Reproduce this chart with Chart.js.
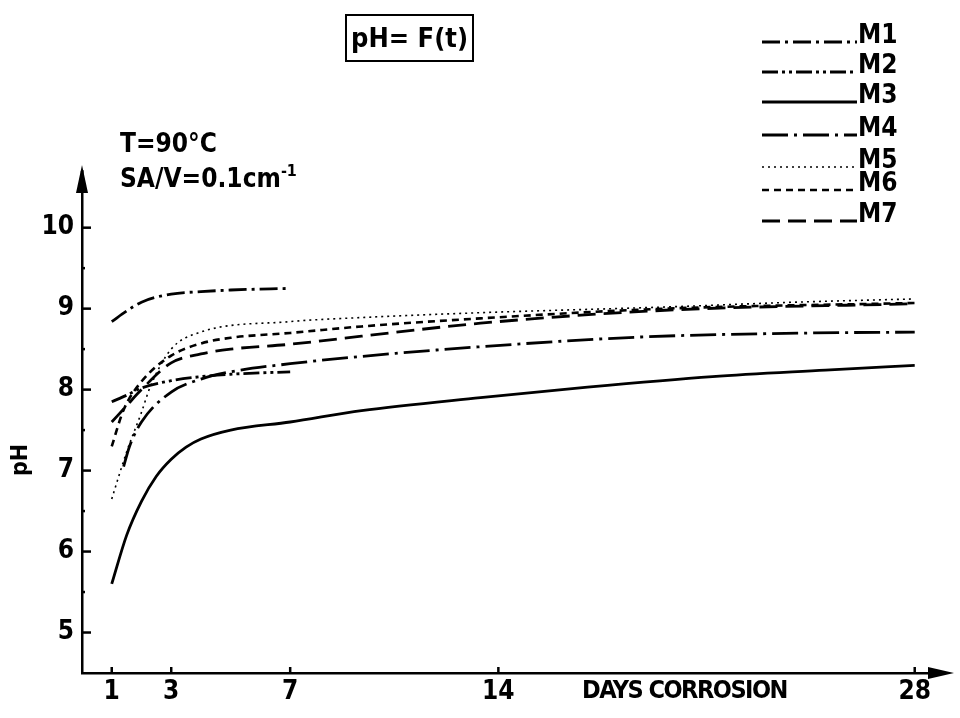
<!DOCTYPE html>
<html>
<head>
<meta charset="utf-8">
<script src="https://cdn.jsdelivr.net/npm/chart.js@4.4.0/dist/chart.umd.min.js"></script>
<style>
body{margin:0;background:#fff;}
#wrap{position:relative;width:960px;height:718px;overflow:hidden;}
canvas{position:absolute;left:0;top:0;}
.txt{position:absolute;font-family:"DejaVu Sans Condensed","DejaVu Sans",sans-serif;font-weight:bold;color:#000;white-space:nowrap;line-height:1;}
#titulo{left:345px;top:14px;width:121px;height:44px;border:2.5px solid #000;font-size:27px;text-align:right;padding-right:4px;box-sizing:content-box;line-height:44px;}
#temp{left:120px;top:130px;font-size:26px;}
#sav{left:120px;top:163px;font-size:26px;}
#sav sup{font-size:16px;vertical-align:11px;}
#ejex{left:582px;top:677px;font-size:25px;letter-spacing:-1.5px;}
#ejey{left:8px;font-size:23px;transform:rotate(-90deg);transform-origin:left top;top:476px;}
</style>
</head>
<body>
<div id="wrap">
<canvas id="grafico" width="960" height="718"></canvas>
<div class="txt" id="titulo">pH= F(t)</div>
<div class="txt" id="temp">T=90°C</div>
<div class="txt" id="sav">SA/V=0.1cm<sup>-1</sup></div>
<div class="txt" id="ejex">DAYS CORROSION</div>
<div class="txt" id="ejey">pH</div>
</div>
<script>
// ticks de los ejes
const diasTicks = [1, 3, 7, 14, 28];
const phTicks = [5, 6, 7, 8, 9, 10];

// nombres de las series
const series = ['M1', 'M2', 'M3', 'M4', 'M5', 'M6', 'M7'];

// valores (dias, pH)
const diasM1 = [1, 1.5, 2, 3, 4, 5, 7];
const phM1 = [8.84, 8.97, 9.08, 9.18, 9.21, 9.23, 9.25];

const diasM2 = [1, 1.5, 2, 3, 4, 5, 7];
const phM2 = [7.85, 7.93, 8.02, 8.11, 8.16, 8.19, 8.22];

const diasM3 = [1, 1.5, 2, 2.5, 3, 3.5, 4, 5, 7, 9.4, 13.4, 17, 21.2, 25, 28];
const phM3 = [5.6, 6.2, 6.62, 6.93, 7.14, 7.29, 7.39, 7.5, 7.6, 7.74, 7.9, 8.03, 8.16, 8.24, 8.3];

const diasM4 = [1.4, 1.6, 2, 3, 4, 5, 7, 9.4, 13.4, 18.8, 24.6, 28];
const phM4 = [7.05, 7.3, 7.6, 7.97, 8.13, 8.22, 8.32, 8.41, 8.53, 8.65, 8.7, 8.71];

const diasM5 = [1, 1.5, 2, 2.3, 3, 3.9, 7, 9.4, 13.4, 19.6, 24, 28];
const phM5 = [6.65, 7.23, 7.72, 8.04, 8.5, 8.7, 8.84, 8.89, 8.95, 9.02, 9.08, 9.12];

const diasM6 = [1, 1.4, 2, 3, 4, 5, 7, 9.4, 13.4, 19.6, 28];
const phM6 = [7.3, 7.75, 8.1, 8.42, 8.57, 8.64, 8.7, 8.78, 8.88, 9.0, 9.07];

const diasM7 = [1, 1.5, 2, 3, 4, 5, 7, 9.4, 13.4, 19.6, 28];
const phM7 = [7.6, 7.8, 8.0, 8.33, 8.44, 8.5, 8.56, 8.66, 8.82, 8.98, 9.06];

const dias = [diasM1, diasM2, diasM3, diasM4, diasM5, diasM6, diasM7];
const phs = [phM1, phM2, phM3, phM4, phM5, phM6, phM7];

// estilo de cada linea
const trazos = [[18, 5, 3, 5], [16, 4, 3, 4, 3, 4], [], [26, 6, 3, 6], [2, 4], [7, 5], [18, 8]];
const grosores = [2.8, 2.8, 2.8, 2.8, 1.6, 2.6, 2.8];

const fuente = '"DejaVu Sans Condensed", "DejaVu Sans", sans-serif';

let datasets = series.map(function (nombre, i) {
    return {
        label: nombre,
        data: dias[i].map((d, j) => ({ x: d, y: phs[i][j] })),
        borderColor: '#000',
        borderWidth: grosores[i],
        borderDash: trazos[i],
        pointRadius: 0,
        fill: false,
        cubicInterpolationMode: 'monotone',
    };
});

// dibuja flechas, marcas interiores y la leyenda
const extras = {
    id: 'extras',
    afterDraw(chart) {
        const ctx = chart.ctx;
        const xs = chart.scales.x;
        const ys = chart.scales.y;
        const area = chart.chartArea;
        ctx.save();
        ctx.strokeStyle = '#000';
        ctx.fillStyle = '#000';
        ctx.lineWidth = 2.5;
        ctx.setLineDash([]);

        // marcas del eje y (hacia dentro)
        for (let v = 5; v <= 10.5; v += 0.5) {
            let py = ys.getPixelForValue(v);
            let largo = Number.isInteger(v) ? 9 : 3;
            ctx.beginPath();
            ctx.moveTo(area.left, py);
            ctx.lineTo(area.left + largo, py);
            ctx.stroke();
        }
        // marcas del eje x
        diasTicks.forEach(function (d) {
            let px = xs.getPixelForValue(d);
            ctx.beginPath();
            ctx.moveTo(px, area.bottom);
            ctx.lineTo(px, area.bottom - 6);
            ctx.stroke();
        });

        // flecha eje y
        ctx.beginPath();
        ctx.moveTo(area.left, area.top);
        ctx.lineTo(area.left, area.top + 20);
        ctx.stroke();
        ctx.beginPath();
        ctx.moveTo(area.left, area.top - 6);
        ctx.lineTo(area.left - 6, area.top + 22);
        ctx.lineTo(area.left + 6, area.top + 22);
        ctx.closePath();
        ctx.fill();
        // flecha eje x
        ctx.beginPath();
        ctx.moveTo(area.right + 14, area.bottom);
        ctx.lineTo(area.right - 12, area.bottom - 6);
        ctx.lineTo(area.right - 12, area.bottom + 6);
        ctx.closePath();
        ctx.fill();

        // leyenda
        const lineasY = [42, 72, 102, 135, 167, 190, 221];
        ctx.font = 'bold 26px ' + fuente;
        ctx.textBaseline = 'alphabetic';
        chart.data.datasets.forEach(function (ds, i) {
            let y = lineasY[i];
            ctx.lineWidth = ds.borderWidth;
            ctx.setLineDash(ds.borderDash);
            ctx.beginPath();
            ctx.moveTo(762, y);
            ctx.lineTo(857, y);
            ctx.stroke();
            ctx.setLineDash([]);
            ctx.fillText(ds.label, 858, y + 1);
        });
        ctx.restore();
    }
};

let canvas = document.getElementById('grafico');

let grafico = new Chart(canvas, {
    type: 'line',
    data: { datasets: datasets },
    options: {
        responsive: false,
        animation: false,
        layout: { padding: { top: 171, right: 20, left: 0, bottom: 0 } },
        plugins: {
            legend: { display: false },
            tooltip: { enabled: false },
        },
        scales: {
            x: {
                type: 'linear',
                min: 0,
                max: 28.85,
                afterBuildTicks: function (scale) {
                    scale.ticks = diasTicks.map(v => ({ value: v }));
                },
                afterFit: function (scale) { scale.height = 45; },
                grid: { display: false, drawTicks: false },
                border: { display: true, color: '#000', width: 2.5 },
                ticks: {
                    color: '#000',
                    padding: 4,
                    maxRotation: 0,
                    font: { family: fuente, size: 26, weight: 'bold' },
                },
            },
            y: {
                min: 4.5,
                max: 10.7,
                afterBuildTicks: function (scale) {
                    scale.ticks = phTicks.map(v => ({ value: v }));
                },
                afterFit: function (scale) { scale.width = 82; },
                grid: { display: false, drawTicks: false },
                border: { display: true, color: '#000', width: 2.5 },
                ticks: {
                    color: '#000',
                    padding: 8,
                    font: { family: fuente, size: 26, weight: 'bold' },
                },
            },
        },
    },
    plugins: [extras],
});
</script>
</body>
</html>
